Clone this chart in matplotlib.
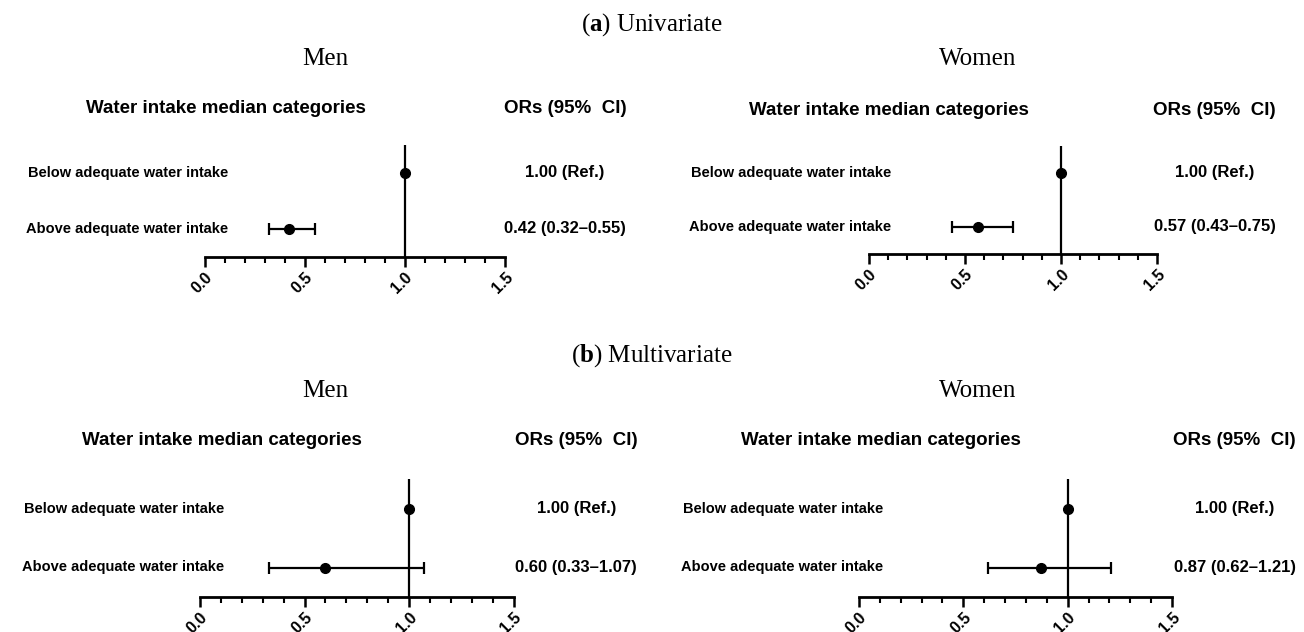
import matplotlib
matplotlib.use("Agg")
import matplotlib.pyplot as plt
from matplotlib.ticker import MultipleLocator

plt.rcParams['font.family'] = ['Liberation Sans', 'DejaVu Sans']
plt.rcParams['font.weight'] = 'bold'
plt.rcParams['mathtext.fontset'] = 'custom'
plt.rcParams['mathtext.rm'] = 'Liberation Serif'
plt.rcParams['mathtext.bf'] = 'Liberation Serif:bold'

# --- data ---
categories = ['Below adequate water intake', 'Above adequate water intake']
header_left = 'Water intake median categories'
header_right = 'ORs (95%  CI)'
xticks = [0.0, 0.5, 1.0, 1.5]

uni_men_or = [1.00, 0.42]
uni_men_lo = [1.00, 0.32]
uni_men_hi = [1.00, 0.55]

uni_women_or = [1.00, 0.57]
uni_women_lo = [1.00, 0.43]
uni_women_hi = [1.00, 0.75]

multi_men_or = [1.00, 0.60]
multi_men_lo = [1.00, 0.33]
multi_men_hi = [1.00, 1.07]

multi_women_or = [1.00, 0.87]
multi_women_lo = [1.00, 0.62]
multi_women_hi = [1.00, 1.21]

W, H = 1304, 632
fig = plt.figure(figsize=(W / 100, H / 100), dpi=100)


def box(x0, x1, ytop, ybot):
    return [x0 / W, 1 - ybot / H, (x1 - x0) / W, (ybot - ytop) / H]


def forest(rect, ors, los, his):
    ax = fig.add_axes(rect)
    rows = list(range(len(categories), 0, -1))
    ax.axvline(1.0, color='black', lw=1.6, zorder=1)
    # reference category: dot only
    ax.plot(ors[0], rows[0], 'o', color='black', ms=7, zorder=3)
    # other categories with CI
    xerr = [[o - l for o, l in zip(ors[1:], los[1:])],
            [h - o for o, h in zip(ors[1:], his[1:])]]
    ax.errorbar(ors[1:], rows[1:], xerr=xerr, fmt='o', color='black',
                ms=7, capsize=4, elinewidth=1.6, capthick=1.6, zorder=3)
    ax.set_xlim(0, 1.5)
    ax.set_ylim(0.5, len(categories) + 0.5)
    for s in ['top', 'right', 'left']:
        ax.spines[s].set_visible(False)
    ax.spines['bottom'].set_linewidth(2)
    ax.set_yticks([])
    ax.set_xticks(xticks)
    ax.set_xticklabels([f'{t:.1f}' for t in xticks], rotation=45, ha='right',
                       va='top', rotation_mode='anchor', fontsize=11.5, fontweight='bold')
    ax.xaxis.set_minor_locator(MultipleLocator(0.1))
    ax.tick_params(axis='x', which='major', length=7, width=1.8, direction='out', pad=2)
    ax.tick_params(axis='x', which='minor', length=4, width=1.5, direction='out')
    ax.patch.set_alpha(0)

    tr = ax.get_yaxis_transform()
    for r, cat, o, l, h in zip(rows, categories, ors, los, his):
        ax.text(0.078, r, cat, transform=tr, ha='right', va='center',
                fontsize=10.5, fontweight='bold')
        if l == h:
            label = f'{o:.2f} (Ref.)'
        else:
            label = f'{o:.2f} ({l:.2f}\u2013{h:.2f})'
        ax.text(1.2, r, label, transform=tr, ha='center', va='center',
                fontsize=12, fontweight='bold', clip_on=False)
    ax.text(0.07, 1.33, header_left, transform=ax.transAxes, ha='center',
            va='center', fontsize=13.5, fontweight='bold')
    ax.text(1.2, 1.33, header_right, transform=ax.transAxes, ha='center',
            va='center', fontsize=13.5, fontweight='bold')
    return ax


forest(box(204.5, 505, 145, 257), uni_men_or, uni_men_lo, uni_men_hi)
forest(box(869, 1157, 146, 254), uni_women_or, uni_women_lo, uni_women_hi)
forest(box(200, 513.5, 479, 597), multi_men_or, multi_men_lo, multi_men_hi)
forest(box(859, 1172, 479, 597), multi_women_or, multi_women_lo, multi_women_hi)

serif = dict(family='Liberation Serif', fontweight='normal', ha='center', va='center', fontsize=18)
fig.text(652 / W, 1 - 25 / H, r'($\mathbf{a}$) Univariate', **serif)
fig.text(652 / W, 1 - 356 / H, r'($\mathbf{b}$) Multivariate', **serif)
for y in (59, 391):
    fig.text(325 / W, 1 - y / H, 'Men', **serif)
    fig.text(978 / W, 1 - y / H, 'Women', **serif)

fig.savefig('out.png', dpi=100)
